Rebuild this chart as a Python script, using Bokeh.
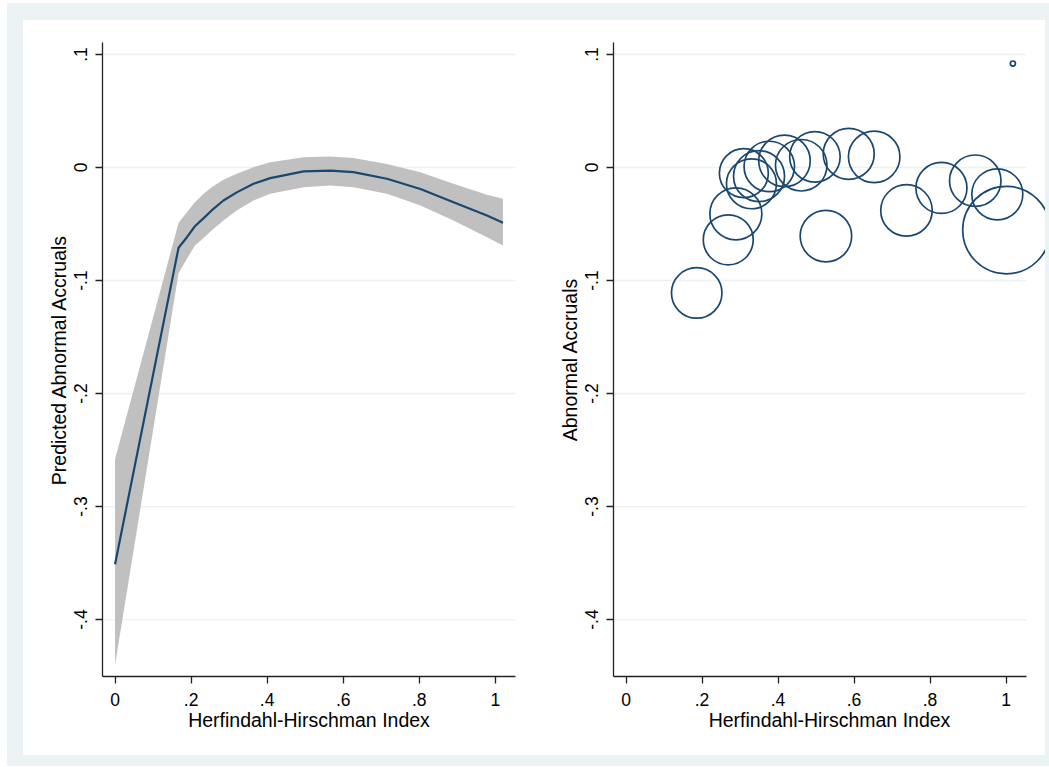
import numpy as np
from bokeh.plotting import figure
from bokeh.layouts import row
from bokeh.models import FixedTicker, ColumnDataSource
from bokeh.embed import file_html
from bokeh.resources import INLINE

# ---------------- data ----------------
# left panel: predicted abnormal accruals with 95% CI
hhi_fit = [0.0, 0.167, 0.189, 0.21, 0.233, 0.254, 0.285, 0.32, 0.364, 0.408, 0.496, 0.566, 0.627, 0.715, 0.803, 0.89, 0.978, 1.02]
pred = [-0.351, -0.071, -0.0617, -0.052, -0.0448, -0.038, -0.0292, -0.022, -0.0144, -0.0094, -0.0035, -0.0027, -0.0041, -0.010, -0.019, -0.0307, -0.0425, -0.049]
ci_upper = [-0.258, -0.049, -0.0396, -0.0307, -0.0233, -0.0174, -0.0109, -0.0056, 0.0003, 0.0047, 0.0091, 0.0097, 0.0083, 0.0032, -0.0041, -0.0144, -0.0242, -0.0277]
ci_lower = [-0.440, -0.0935, -0.0808, -0.069, -0.0625, -0.0558, -0.0469, -0.038, -0.0292, -0.0233, -0.0174, -0.0159, -0.0174, -0.0233, -0.0336, -0.0469, -0.0617, -0.069]

# right panel: binned abnormal accruals (bubble weight = observations)
hhi_bin = [0.186, 0.269, 0.289, 0.31, 0.33, 0.35, 0.377, 0.417, 0.461, 0.497, 0.526, 0.586, 0.653, 0.738, 0.830, 0.919, 0.977, 1.001, 1.018]
aa_bin = [-0.111, -0.064, -0.041, -0.005, -0.0144, -0.0077, 0.0009, 0.0059, 0.002, 0.0094, -0.0607, 0.012, 0.0094, -0.038, -0.0181, -0.0117, -0.0237, -0.0554, 0.092]
weights = [98, 96, 104, 92, 96, 100, 98, 102, 102, 98, 102, 100, 102, 102, 100, 102, 100, 294, 1]

x_ticks = [0, 0.2, 0.4, 0.6, 0.8, 1.0]
x_tick_labels = ["0", ".2", ".4", ".6", ".8", "1"]
y_ticks = [-0.4, -0.3, -0.2, -0.1, 0.0, 0.1]
y_tick_labels = ["-.4", "-.3", "-.2", "-.1", "0", ".1"]

x_title = "Herfindahl-Hirschman Index"
y_title_left = "Predicted Abnormal Accruals"
y_title_right = "Abnormal Accruals"

# ---------------- style ----------------
NAVY = "#1A476F"
BAND = "#C0C0C0"
BG = "#EAF2F3"
GRID = "#EAF2F3"
AXC = "#222222"
FONT = "Liberation Sans"
XR = (-0.033, 1.053)
YR = (-0.4504, 0.1106)
PX_PER_X = 380.0
FIG_H = 735
MB_TOP, MB_BOT = 22, 79


def make_fig(width, min_left, min_right, y_title, x_end):
    p = figure(width=width, height=FIG_H, x_range=(XR[0], x_end), y_range=YR,
               output_backend="svg", toolbar_location=None,
               min_border_left=min_left, min_border_right=min_right,
               min_border_top=MB_TOP, min_border_bottom=MB_BOT)
    p.border_fill_color = "white"
    p.background_fill_color = "white"
    p.outline_line_color = None
    p.xgrid.grid_line_color = None
    p.ygrid.grid_line_color = None
    p.xaxis.ticker = FixedTicker(ticks=x_ticks)
    p.yaxis.ticker = FixedTicker(ticks=y_ticks)
    p.xaxis.major_label_overrides = dict(zip(x_ticks, x_tick_labels))
    p.yaxis.major_label_overrides = dict(zip(y_ticks, y_tick_labels))
    p.xaxis.bounds = XR
    for ax in (p.xaxis[0], p.yaxis[0]):
        ax.minor_tick_line_color = None
        ax.major_tick_in = 0
        ax.major_tick_out = 7
        ax.axis_line_color = AXC
        ax.axis_line_width = 1.3
        ax.major_tick_line_color = AXC
        ax.major_tick_line_width = 1.3
        ax.major_label_text_font = FONT
        ax.major_label_text_font_size = "17.5px"
        ax.major_label_text_color = "black"
        ax.axis_label_text_font = FONT
        ax.axis_label_text_font_size = "19.5px"
        ax.axis_label_text_font_style = "normal"
        ax.axis_label_text_color = "black"
    p.xaxis.axis_label = x_title
    p.yaxis.axis_label = y_title
    p.yaxis.major_label_orientation = "vertical"
    p.xaxis.major_label_standoff = 9
    p.xaxis.axis_label_standoff = 0
    p.yaxis.major_label_standoff = 8
    p.yaxis.axis_label_standoff = 2
    # horizontal grid lines spanning the plot region only
    p.segment(x0=[XR[0]] * len(y_ticks), x1=[XR[1]] * len(y_ticks),
              y0=y_ticks, y1=y_ticks, line_color=GRID, line_width=1.3,
              level="underlay")
    return p


# left panel
p1 = make_fig(512, 79, 20, y_title_left, XR[1])
src1 = ColumnDataSource(dict(x=hhi_fit, y=pred, lo=ci_lower, hi=ci_upper))
p1.varea(x="x", y1="lo", y2="hi", source=src1, fill_color=BAND, fill_alpha=1.0)
p1.line(x="x", y="y", source=src1, line_color=NAVY, line_width=2.2)

# right panel (plot area extends to the right edge so large bubbles are not clipped)
W2, ML2 = 510, 78
x_end2 = XR[0] + (W2 - ML2) / PX_PER_X
p2 = make_fig(W2, ML2, 0, y_title_right, x_end2)
diam = [51.0 * np.sqrt(w / 100.0) for w in weights]
src2 = ColumnDataSource(dict(x=hhi_bin, y=aa_bin, s=diam))
p2.scatter(x="x", y="y", size="s", source=src2, marker="circle",
           fill_color=None, line_color=NAVY, line_width=1.7)

inner = row(p1, p2, spacing=0, styles={"background-color": "white"})
lay = row(inner, margin=(3, 0, 0, 7),
          styles={"background-color": BG, "padding": "17px 4px 11px 16px"})

open("out.html", "w").write(file_html(lay, INLINE))
